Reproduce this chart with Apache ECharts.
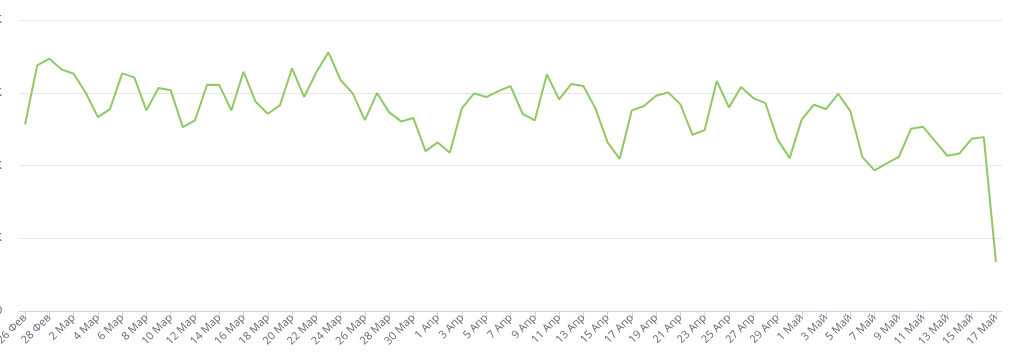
<!DOCTYPE html>
<html>
<head>
<meta charset="utf-8">
<script src="https://cdn.jsdelivr.net/npm/echarts@6/dist/echarts.min.js"></script>
<style>html,body{margin:0;padding:0;background:#fff;}#c{width:1023px;height:358px;}</style>
</head>
<body>
<div id="c"></div>
<script>
var categories = [
  "26 Фев","27 Фев","28 Фев",
  "1 Мар","2 Мар","3 Мар","4 Мар","5 Мар","6 Мар","7 Мар","8 Мар","9 Мар","10 Мар",
  "11 Мар","12 Мар","13 Мар","14 Мар","15 Мар","16 Мар","17 Мар","18 Мар","19 Мар","20 Мар",
  "21 Мар","22 Мар","23 Мар","24 Мар","25 Мар","26 Мар","27 Мар","28 Мар","29 Мар","30 Мар","31 Мар",
  "1 Апр","2 Апр","3 Апр","4 Апр","5 Апр","6 Апр","7 Апр","8 Апр","9 Апр","10 Апр",
  "11 Апр","12 Апр","13 Апр","14 Апр","15 Апр","16 Апр","17 Апр","18 Апр","19 Апр","20 Апр",
  "21 Апр","22 Апр","23 Апр","24 Апр","25 Апр","26 Апр","27 Апр","28 Апр","29 Апр","30 Апр",
  "1 Май","2 Май","3 Май","4 Май","5 Май","6 Май","7 Май","8 Май","9 Май","10 Май",
  "11 Май","12 Май","13 Май","14 Май","15 Май","16 Май","17 Май"
];
var values = [
  2565,3377,3468,3322,3261,3000,2665,2776,3267,3212,2758,3065,3033,2528,2620,3110,3106,2758,3289,2876,
  2711,2826,3336,2941,3281,3556,3175,2992,2624,2996,2730,2606,2652,2198,2317,2174,2789,2992,2941,3023,
  3092,2711,2620,3253,2909,3120,3092,2785,2317,2092,2758,2817,2959,3005,2840,2422,2487,3161,2799,3078,
  2927,2858,2363,2101,2634,2835,2776,2986,2748,2115,1932,2028,2119,2504,2532,2331,2133,2166,2367,2390,
  674
];
var yTicks = { min: 0, max: 4000, interval: 1000 };

var chart = echarts.init(document.getElementById('c'), null, { renderer: 'canvas' });
chart.setOption({
  animation: false,
  backgroundColor: '#ffffff',
  grid: { left: 19, right: 21, top: 20, bottom: 47, containLabel: false, outerBoundsMode: 'none' },
  xAxis: {
    type: 'category',
    data: categories,
    boundaryGap: true,
    axisLine: { lineStyle: { color: '#ccd6eb', width: 1 } },
    axisTick: { show: true, interval: 1, alignWithLabel: true, length: 7, lineStyle: { color: '#ccd6eb' } },
    axisLabel: { interval: 1, rotate: 45, color: '#666677', fontSize: 11, margin: 5, fontFamily: 'Open Sans, sans-serif' }
  },
  yAxis: {
    type: 'value',
    min: yTicks.min, max: yTicks.max, interval: yTicks.interval,
    axisLine: { show: false },
    axisTick: { show: false },
    splitLine: { lineStyle: { color: '#e6e6e6', width: 1 } },
    axisLabel: {
      margin: 17, color: '#666677', fontSize: 11,
      formatter: function (v) { return v === 0 ? '0' : (v / 1000) + 'K'; }
    }
  },
  series: [{
    type: 'line',
    data: values,
    showSymbol: false,
    symbol: 'none',
    lineStyle: { color: '#90c865', width: 2 },
    itemStyle: { color: '#90c865' }
  }]
});
</script>
</body>
</html>
